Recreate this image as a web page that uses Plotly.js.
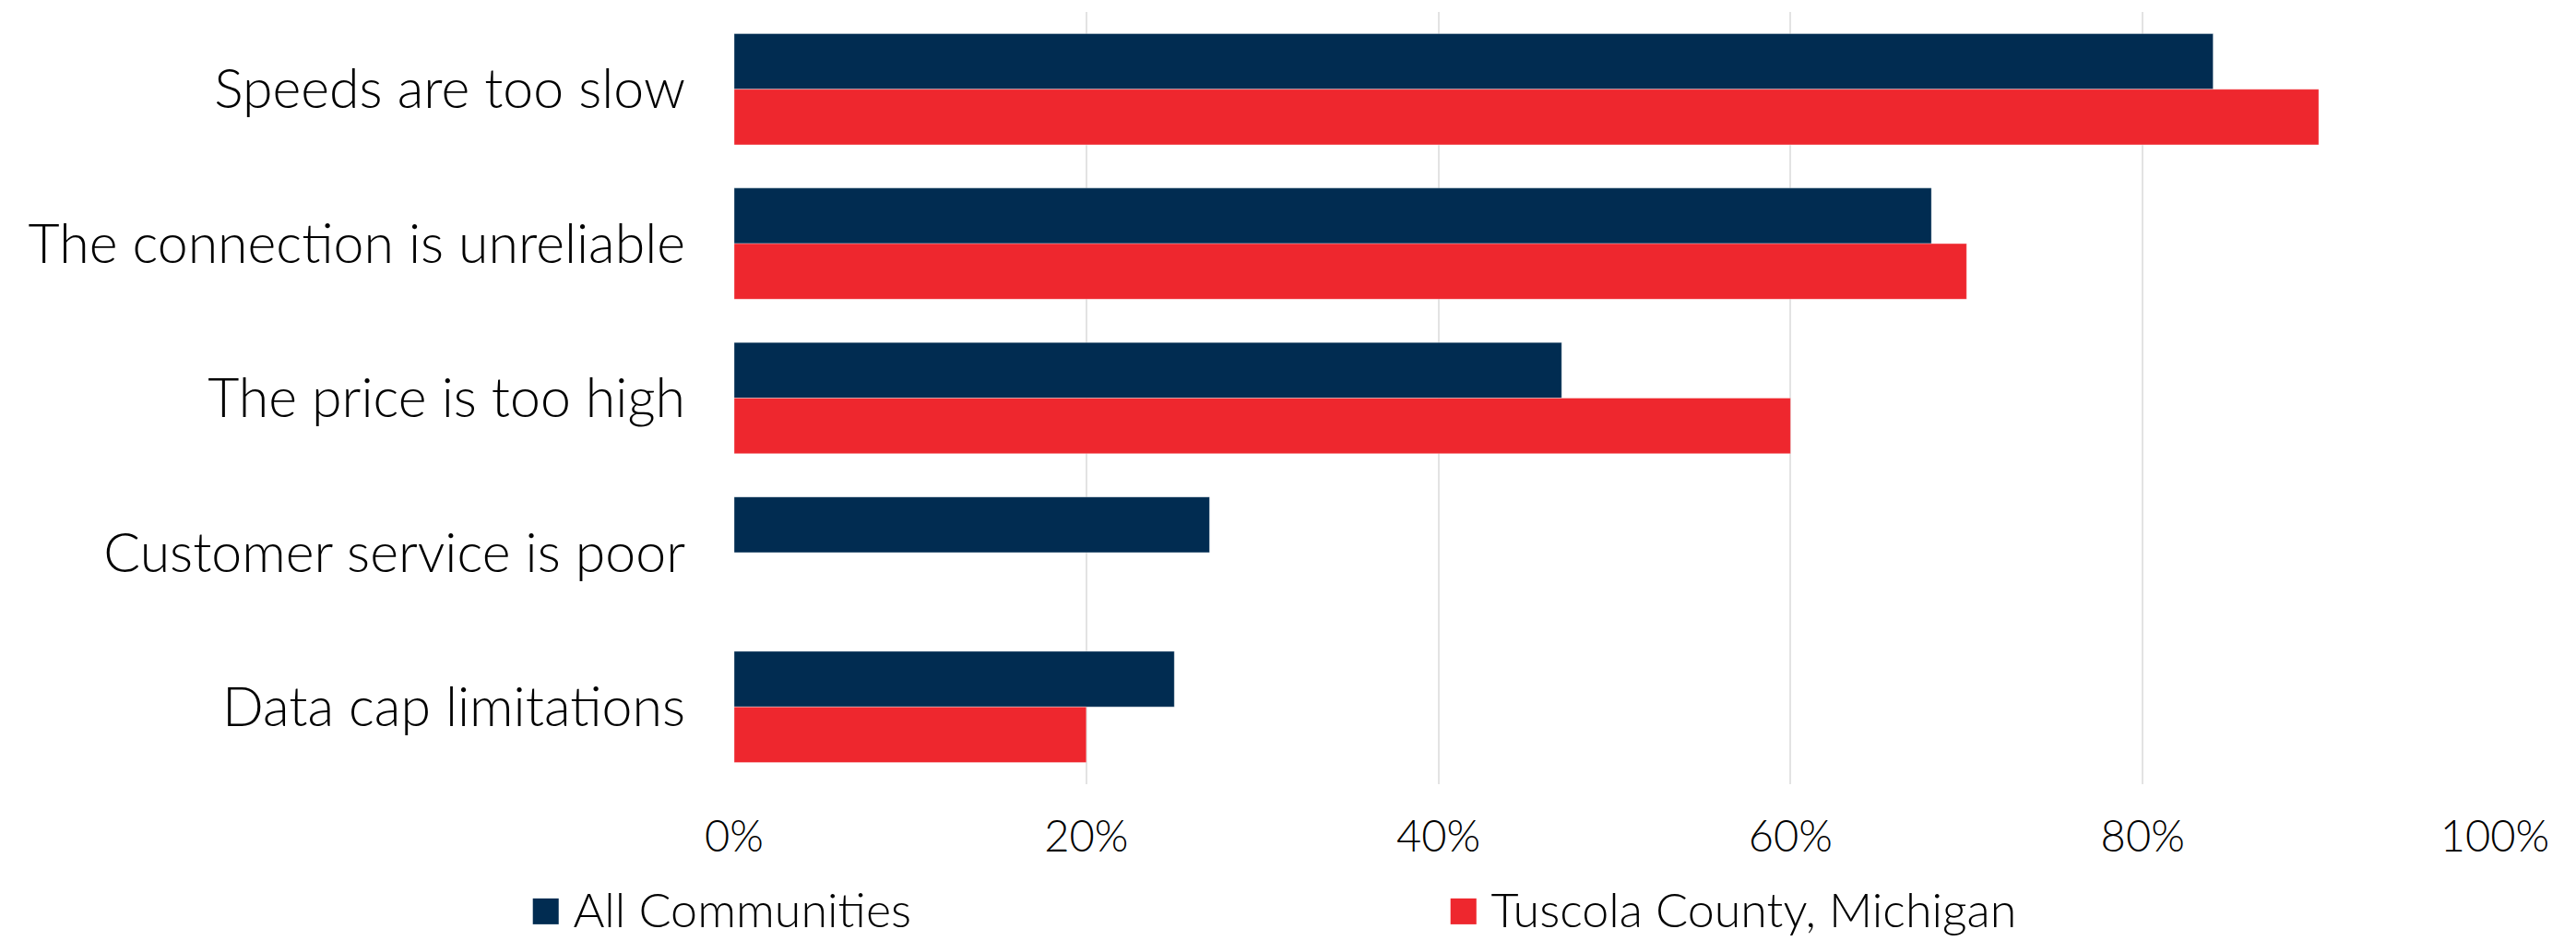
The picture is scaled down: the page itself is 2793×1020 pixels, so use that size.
<!DOCTYPE html>
<html>
<head>
<meta charset="utf-8">
<script src="https://cdn.plot.ly/plotly-3.0.1.min.js"></script>
<style>html,body{margin:0;padding:0;background:#fff;}#chart{width:2793px;height:1020px;}</style>
</head>
<body>
<div id="chart"></div>
<script>
const categories = ["Speeds are too slow", "The connection is unreliable", "The price is too high", "Customer service is poor", "Data cap limitations"];
const allCommunities = [0.84, 0.68, 0.47, 0.27, 0.25];
const tuscola = [0.90, 0.70, 0.60, 0, 0.20];
const seriesNames = ["All Communities", "Tuscola County, Michigan"];
const seriesColors = ["#012C51", "#EE272E"];
const tickVals = [0, 0.2, 0.4, 0.6, 0.8, 1.0];
const tickText = ["0%", "20%", "40%", "60%", "80%", "100%"];

const FONT = "Lato, 'Open Sans', sans-serif";
const seriesValues = [allCommunities, tuscola];

const traces = seriesValues.map((vals, i) => ({
  type: "bar",
  orientation: "h",
  name: seriesNames[i],
  y: categories,
  x: vals,
  marker: {color: seriesColors[i], line: {width: 1, color: "rgba(255,255,255,0.35)"}},
  showlegend: false,
  hoverinfo: "skip"
}));

const legendX = [-0.1175, 0.404];
const annotations = seriesNames.map((n, i) => ({
  xref: "paper", yref: "paper",
  x: legendX[i], y: -0.158,
  xanchor: "left", yanchor: "middle",
  showarrow: false,
  text: "<span style='color:" + seriesColors[i] + ";font-size:58px'>■</span> " + n,
  font: {family: FONT, size: 52, color: "#000", weight: 300}
}));

const layout = {
  width: 2793, height: 1020,
  margin: {l: 796, r: 88, t: 13, b: 170},
  paper_bgcolor: "#fff", plot_bgcolor: "#fff",
  barmode: "group",
  bargap: 0.28,
  bargroupgap: 0,
  showlegend: false,
  xaxis: {
    range: [0, 1.0],
    tickvals: tickVals, ticktext: tickText,
    showgrid: true, gridcolor: "#e3e3e3", gridwidth: 2,
    zeroline: false, showline: false, ticks: "",
    ticklabelstandoff: 25,
    tickfont: {family: FONT, size: 47, color: "#000", weight: 300},
    fixedrange: true
  },
  yaxis: {
    autorange: "reversed",
    showgrid: false, zeroline: false, showline: false, ticks: "",
    ticklabelstandoff: 52,
    tickfont: {family: FONT, size: 59, color: "#000", weight: 300},
    fixedrange: true
  },
  annotations: annotations
};

Plotly.newPlot("chart", traces, layout, {displayModeBar: false, staticPlot: true});
</script>
</body>
</html>
